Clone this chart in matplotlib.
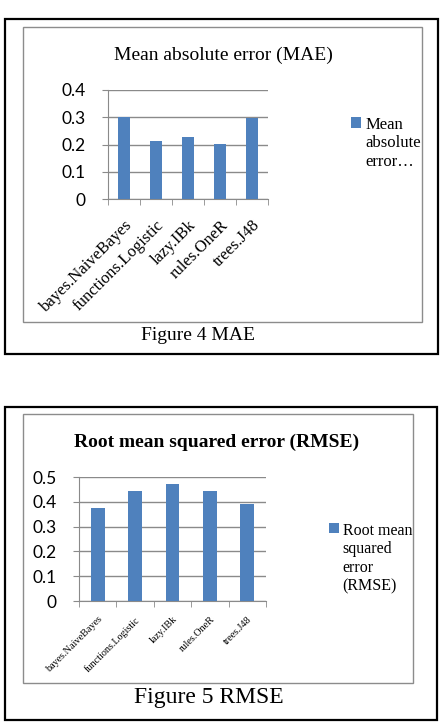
import matplotlib.pyplot as plt
from matplotlib.patches import Rectangle

# data
classifiers = ['bayes.NaiveBayes', 'functions.Logistic', 'lazy.IBk', 'rules.OneR', 'trees.J48']
mae = [0.301, 0.213, 0.226, 0.202, 0.299]
rmse = [0.375, 0.442, 0.472, 0.445, 0.391]
mae_ticks = [0, 0.1, 0.2, 0.3, 0.4]
mae_ticklabels = ['0', '0.1', '0.2', '0.3', '0.4']
rmse_ticks = [0, 0.1, 0.2, 0.3, 0.4, 0.5]
rmse_ticklabels = ['0', '0.1', '0.2', '0.3', '0.4', '0.5']

W, H = 443, 723
bar_color = '#4F81BD'
grid_color = '#8a8a8a'
serif = 'Liberation Serif'
sans = 'Lato'

fig = plt.figure(figsize=(W / 100, H / 100), dpi=100)


def fx(px):
    return px / W


def fy(py):
    return 1 - py / H


def box(x0, y0, x1, y1, color, lw):
    fig.patches.append(Rectangle((fx(x0), fy(y1)), fx(x1) - fx(x0), fy(y0) - fy(y1),
                                 transform=fig.transFigure, fill=False,
                                 edgecolor=color, linewidth=lw))


def bar_panel(rect, values, ticks, ticklabels, xlab_size, xpad, width):
    ax = fig.add_axes(rect)
    x = range(len(values))
    ax.bar(x, values, width=width, color=bar_color, zorder=3)
    ax.set_xlim(-0.5, len(values) - 0.5)
    ax.set_ylim(ticks[0], ticks[-1])
    ax.set_yticks(ticks)
    ax.set_yticklabels(ticklabels, fontfamily=sans, fontsize=12.5)
    ax.set_xticks(list(x))
    ax.set_xticklabels(classifiers, rotation=45, ha='right', va='top',
                       rotation_mode='anchor', fontfamily=serif, fontsize=xlab_size)
    ax.set_xticks([i - 0.5 for i in range(len(values) + 1)], minor=True)
    ax.tick_params(axis='x', which='major', length=0, pad=xpad)
    ax.tick_params(axis='x', which='minor', length=4, color=grid_color, direction='out')
    ax.tick_params(axis='y', length=4, color=grid_color, pad=12)
    ax.yaxis.grid(True, color=grid_color, linewidth=1, zorder=0)
    for s in ['top', 'right']:
        ax.spines[s].set_visible(False)
    for s in ['left', 'bottom']:
        ax.spines[s].set_color(grid_color)
    ax.set_facecolor('none')
    return ax


def side_legend(ax, label, x, y, size):
    leg = ax.legend([ax.containers[0]], [label], loc='upper left',
                    bbox_to_anchor=(fx(x), fy(y)), bbox_transform=fig.transFigure,
                    frameon=False, handlelength=0.6, handleheight=0.6,
                    handletextpad=0.25, borderaxespad=0, borderpad=0,
                    prop={'family': serif, 'size': size})
    # keep the square beside the first line of the label, as Excel does
    for col in leg._legend_handle_box.get_children():
        for row in col.get_children():
            row.align = 'top'
    return leg


# ---- Figure 4: MAE ----
box(5, 19, 438, 354, 'black', 1.6)
box(23, 27, 422, 322, '#8c8c8c', 1.0)
fig.text(fx(223), fy(55), 'Mean absolute error (MAE)', ha='center', va='center',
         fontfamily=serif, fontsize=14)
ax1 = bar_panel([fx(108), fy(199), fx(268) - fx(108), fy(90) - fy(199)],
                mae, mae_ticks, mae_ticklabels, 12, 13, 0.38)
side_legend(ax1, 'Mean\nabsolute\nerror…', 351, 117, 12)
fig.text(fx(198), fy(336), 'Figure 4 MAE', ha='center', va='center',
         fontfamily=serif, fontsize=14)

# ---- Figure 5: RMSE ----
box(5, 407, 437, 720, 'black', 1.6)
box(23, 414, 413, 683, '#8c8c8c', 1.0)
fig.text(fx(217), fy(442), 'Root mean squared error (RMSE)', ha='center', va='center',
         fontfamily=serif, fontsize=14, fontweight='bold')
ax2 = bar_panel([fx(79), fy(601), fx(266) - fx(79), fy(477) - fy(601)],
                rmse, rmse_ticks, rmse_ticklabels, 7.3, 10, 0.37)
side_legend(ax2, 'Root mean\nsquared\nerror\n(RMSE)', 329, 523, 11.5)
fig.text(fx(209), fy(698), 'Figure 5 RMSE', ha='center', va='center',
         fontfamily=serif, fontsize=17)

fig.savefig('out.png', dpi=100)
